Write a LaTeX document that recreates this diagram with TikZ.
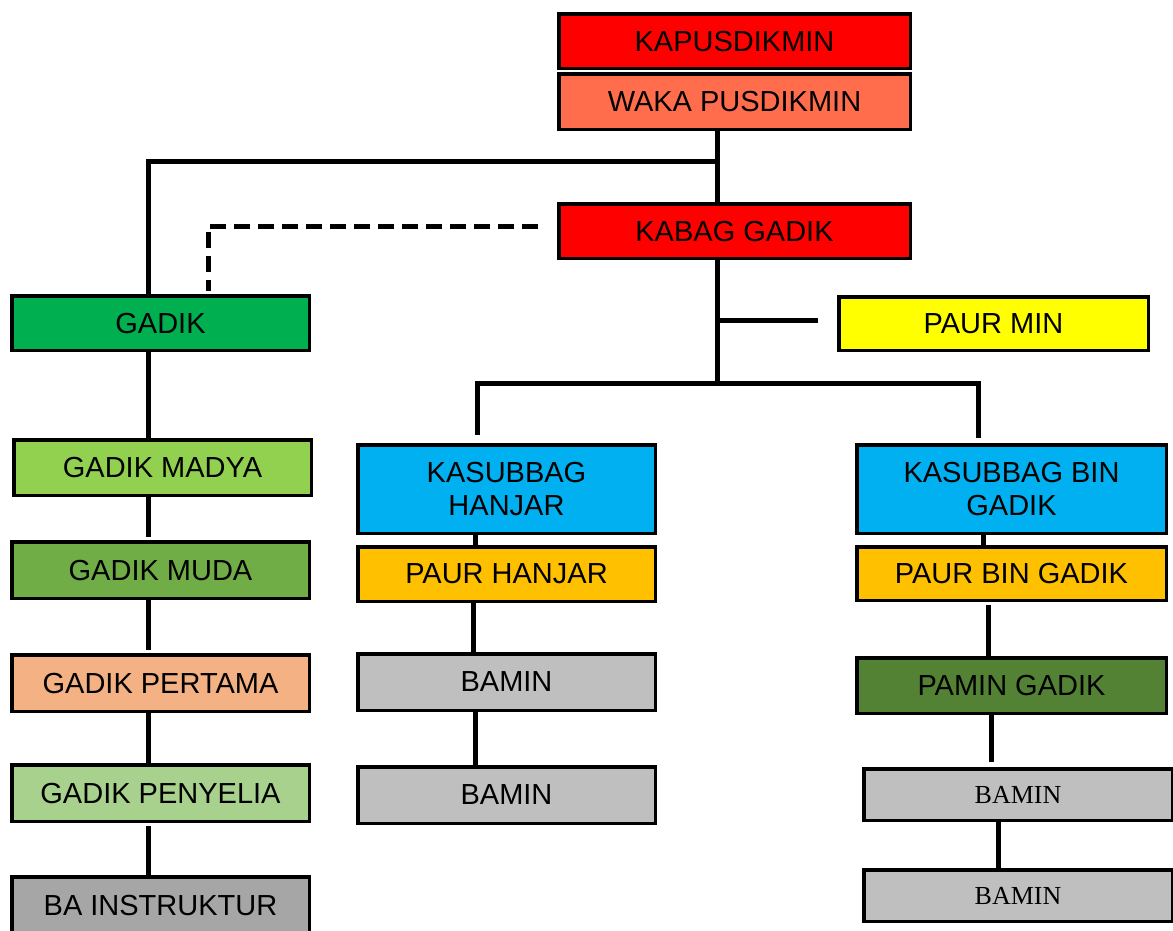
\documentclass[tikz,border=0pt]{standalone}
\usepackage{fontspec}
\setmainfont{Liberation Sans}
\newfontfamily\timesf{Liberation Serif}
\definecolor{cRed}{HTML}{FF0000}
\definecolor{cWaka}{HTML}{FF6D4D}
\definecolor{cGadik}{HTML}{00B050}
\definecolor{cYellow}{HTML}{FFFF00}
\definecolor{cMadya}{HTML}{92D050}
\definecolor{cMuda}{HTML}{70AD47}
\definecolor{cPertama}{HTML}{F4B183}
\definecolor{cPenyelia}{HTML}{A9D18E}
\definecolor{cBaInst}{HTML}{A6A6A6}
\definecolor{cBlue}{HTML}{00B0F0}
\definecolor{cPaur}{HTML}{FFC000}
\definecolor{cBamin}{HTML}{BFBFBF}
\definecolor{cPamin}{HTML}{548235}
\tikzset{
  box/.style={draw=black, line width=3.5pt, inner sep=0pt, align=center, text depth=0pt,
    font=\fontsize{29}{33}\selectfont},
  serifbox/.style={box, font=\timesf\fontsize{26}{30}\selectfont},
  conn/.style={line width=5pt, line join=miter},
  dconn/.style={line width=5pt, dash pattern=on 16pt off 8pt},
}
\begin{document}
\begin{tikzpicture}[x=1pt, y=-1pt]
\useasboundingbox (0,0) rectangle (1173,930);
% top
\node[box, fill=cRed, minimum width=351.5pt, minimum height=54.5pt] (kap) at (734.5,41) {KAPUSDIKMIN};
\node[box, fill=cWaka, minimum width=351.5pt, minimum height=55.5pt] (waka) at (734.5,101.5) {WAKA PUSDIKMIN};
\node[box, fill=cRed, minimum width=351.5pt, minimum height=54.5pt] (kabag) at (734.5,231) {KABAG GADIK};
\node[box, fill=cYellow, minimum width=309.5pt, minimum height=53.5pt] (paurmin) at (993.5,323.5) {PAUR MIN};
% left column
\node[box, fill=cGadik, minimum width=297.5pt, minimum height=54.5pt] (gadik) at (160.5,323) {GADIK};
\node[box, fill=cMadya, minimum width=297.5pt, minimum height=55.5pt] (madya) at (162.5,467.5) {GADIK MADYA};
\node[box, fill=cMuda, minimum width=297.5pt, minimum height=56.5pt] (muda) at (160.5,570) {GADIK MUDA};
\node[box, fill=cPertama, minimum width=297.5pt, minimum height=56.5pt] (pertama) at (160.5,683) {GADIK PERTAMA};
\node[box, fill=cPenyelia, minimum width=297.5pt, minimum height=56.5pt] (penyelia) at (160.5,793) {GADIK PENYELIA};
\node[box, fill=cBaInst, minimum width=297.5pt, minimum height=56.5pt] (bainst) at (160.5,905) {BA INSTRUKTUR};
% middle column
\node[box, fill=cBlue, minimum width=297.5pt, minimum height=88.5pt] (kashanjar) at (506.5,489) {KASUBBAG\\HANJAR};
\node[box, fill=cPaur, minimum width=297.5pt, minimum height=54.5pt] (paurhanjar) at (506.5,574) {PAUR HANJAR};
\node[box, fill=cBamin, minimum width=297.5pt, minimum height=56.5pt] (bamin1) at (506.5,682) {BAMIN};
\node[box, fill=cBamin, minimum width=297.5pt, minimum height=56.5pt] (bamin2) at (506.5,795) {BAMIN};
% right column
\node[box, fill=cBlue, minimum width=309.5pt, minimum height=88.5pt] (kasbin) at (1011.5,489) {KASUBBAG BIN\\GADIK};
\node[box, fill=cPaur, minimum width=309.5pt, minimum height=53.5pt] (paurbin) at (1011.5,573.5) {PAUR BIN GADIK};
\node[box, fill=cPamin, minimum width=309.5pt, minimum height=55.5pt] (pamin) at (1011.5,685.5) {PAMIN GADIK};
\node[serifbox, fill=cBamin, minimum width=308.5pt, minimum height=51.5pt] (bamin3) at (1018,794.5) {BAMIN};
\node[serifbox, fill=cBamin, minimum width=308.5pt, minimum height=51.5pt] (bamin4) at (1018,895.5) {BAMIN};
% helper coordinates
\coordinate (xTop) at (717,0);
\coordinate (hTop) at (0,161);
\coordinate (xL) at (148,0);
\coordinate (xD) at (208,0);
\coordinate (hDash) at (0,226);
\coordinate (hMid) at (0,383);
\coordinate (hMin) at (0,320);
\coordinate (xH) at (477,0);
\coordinate (xB) at (978,0);
\coordinate (xS1) at (475,0);
\coordinate (xS2) at (983,0);
\coordinate (xM1) at (473,0);
\coordinate (xM2) at (475,0);
\coordinate (xR1) at (988,0);
\coordinate (xR2) at (991,0);
\coordinate (xR3) at (998,0);
% connectors
\draw[conn] (waka.south -| xTop) -- (kabag.north -| xTop);
\draw[conn] (xTop |- hTop) -- (xL |- hTop) -- (gadik.north -| xL);
\draw[dconn] ([xshift=-19pt]kabag.west |- hDash) -- (xD |- hDash) -- ([yshift=3pt]gadik.north -| xD);
\draw[conn] (kabag.south -| xTop) -- (xTop |- hMid);
\draw[conn] (xTop |- hMin) -- ([xshift=-19pt]paurmin.west |- hMin);
\draw[conn] ([yshift=8pt]kashanjar.north -| xH) -- (xH |- hMid) -- (xB |- hMid) -- ([yshift=5pt]kasbin.north -| xB);
\draw[conn] (kashanjar.south -| xS1) -- (paurhanjar.north -| xS1);
\draw[conn] (kasbin.south -| xS2) -- (paurbin.north -| xS2);
\draw[conn] (paurhanjar.south -| xM1) -- (bamin1.north -| xM1);
\draw[conn] (bamin1.south -| xM2) -- (bamin2.north -| xM2);
\draw[conn] ([yshift=-3pt]paurbin.south -| xR1) -- (pamin.north -| xR1);
\draw[conn] (pamin.south -| xR2) -- ([yshift=5pt]bamin3.north -| xR2);
\draw[conn] (bamin3.south -| xR3) -- (bamin4.north -| xR3);
\draw[conn] (gadik.south -| xL) -- (madya.north -| xL);
\draw[conn] (madya.south -| xL) -- ([yshift=3pt]muda.north -| xL);
\draw[conn] (muda.south -| xL) -- ([yshift=3pt]pertama.north -| xL);
\draw[conn] (pertama.south -| xL) -- (penyelia.north -| xL);
\draw[conn] ([yshift=-3pt]penyelia.south -| xL) -- (bainst.north -| xL);
\end{tikzpicture}
\end{document}
